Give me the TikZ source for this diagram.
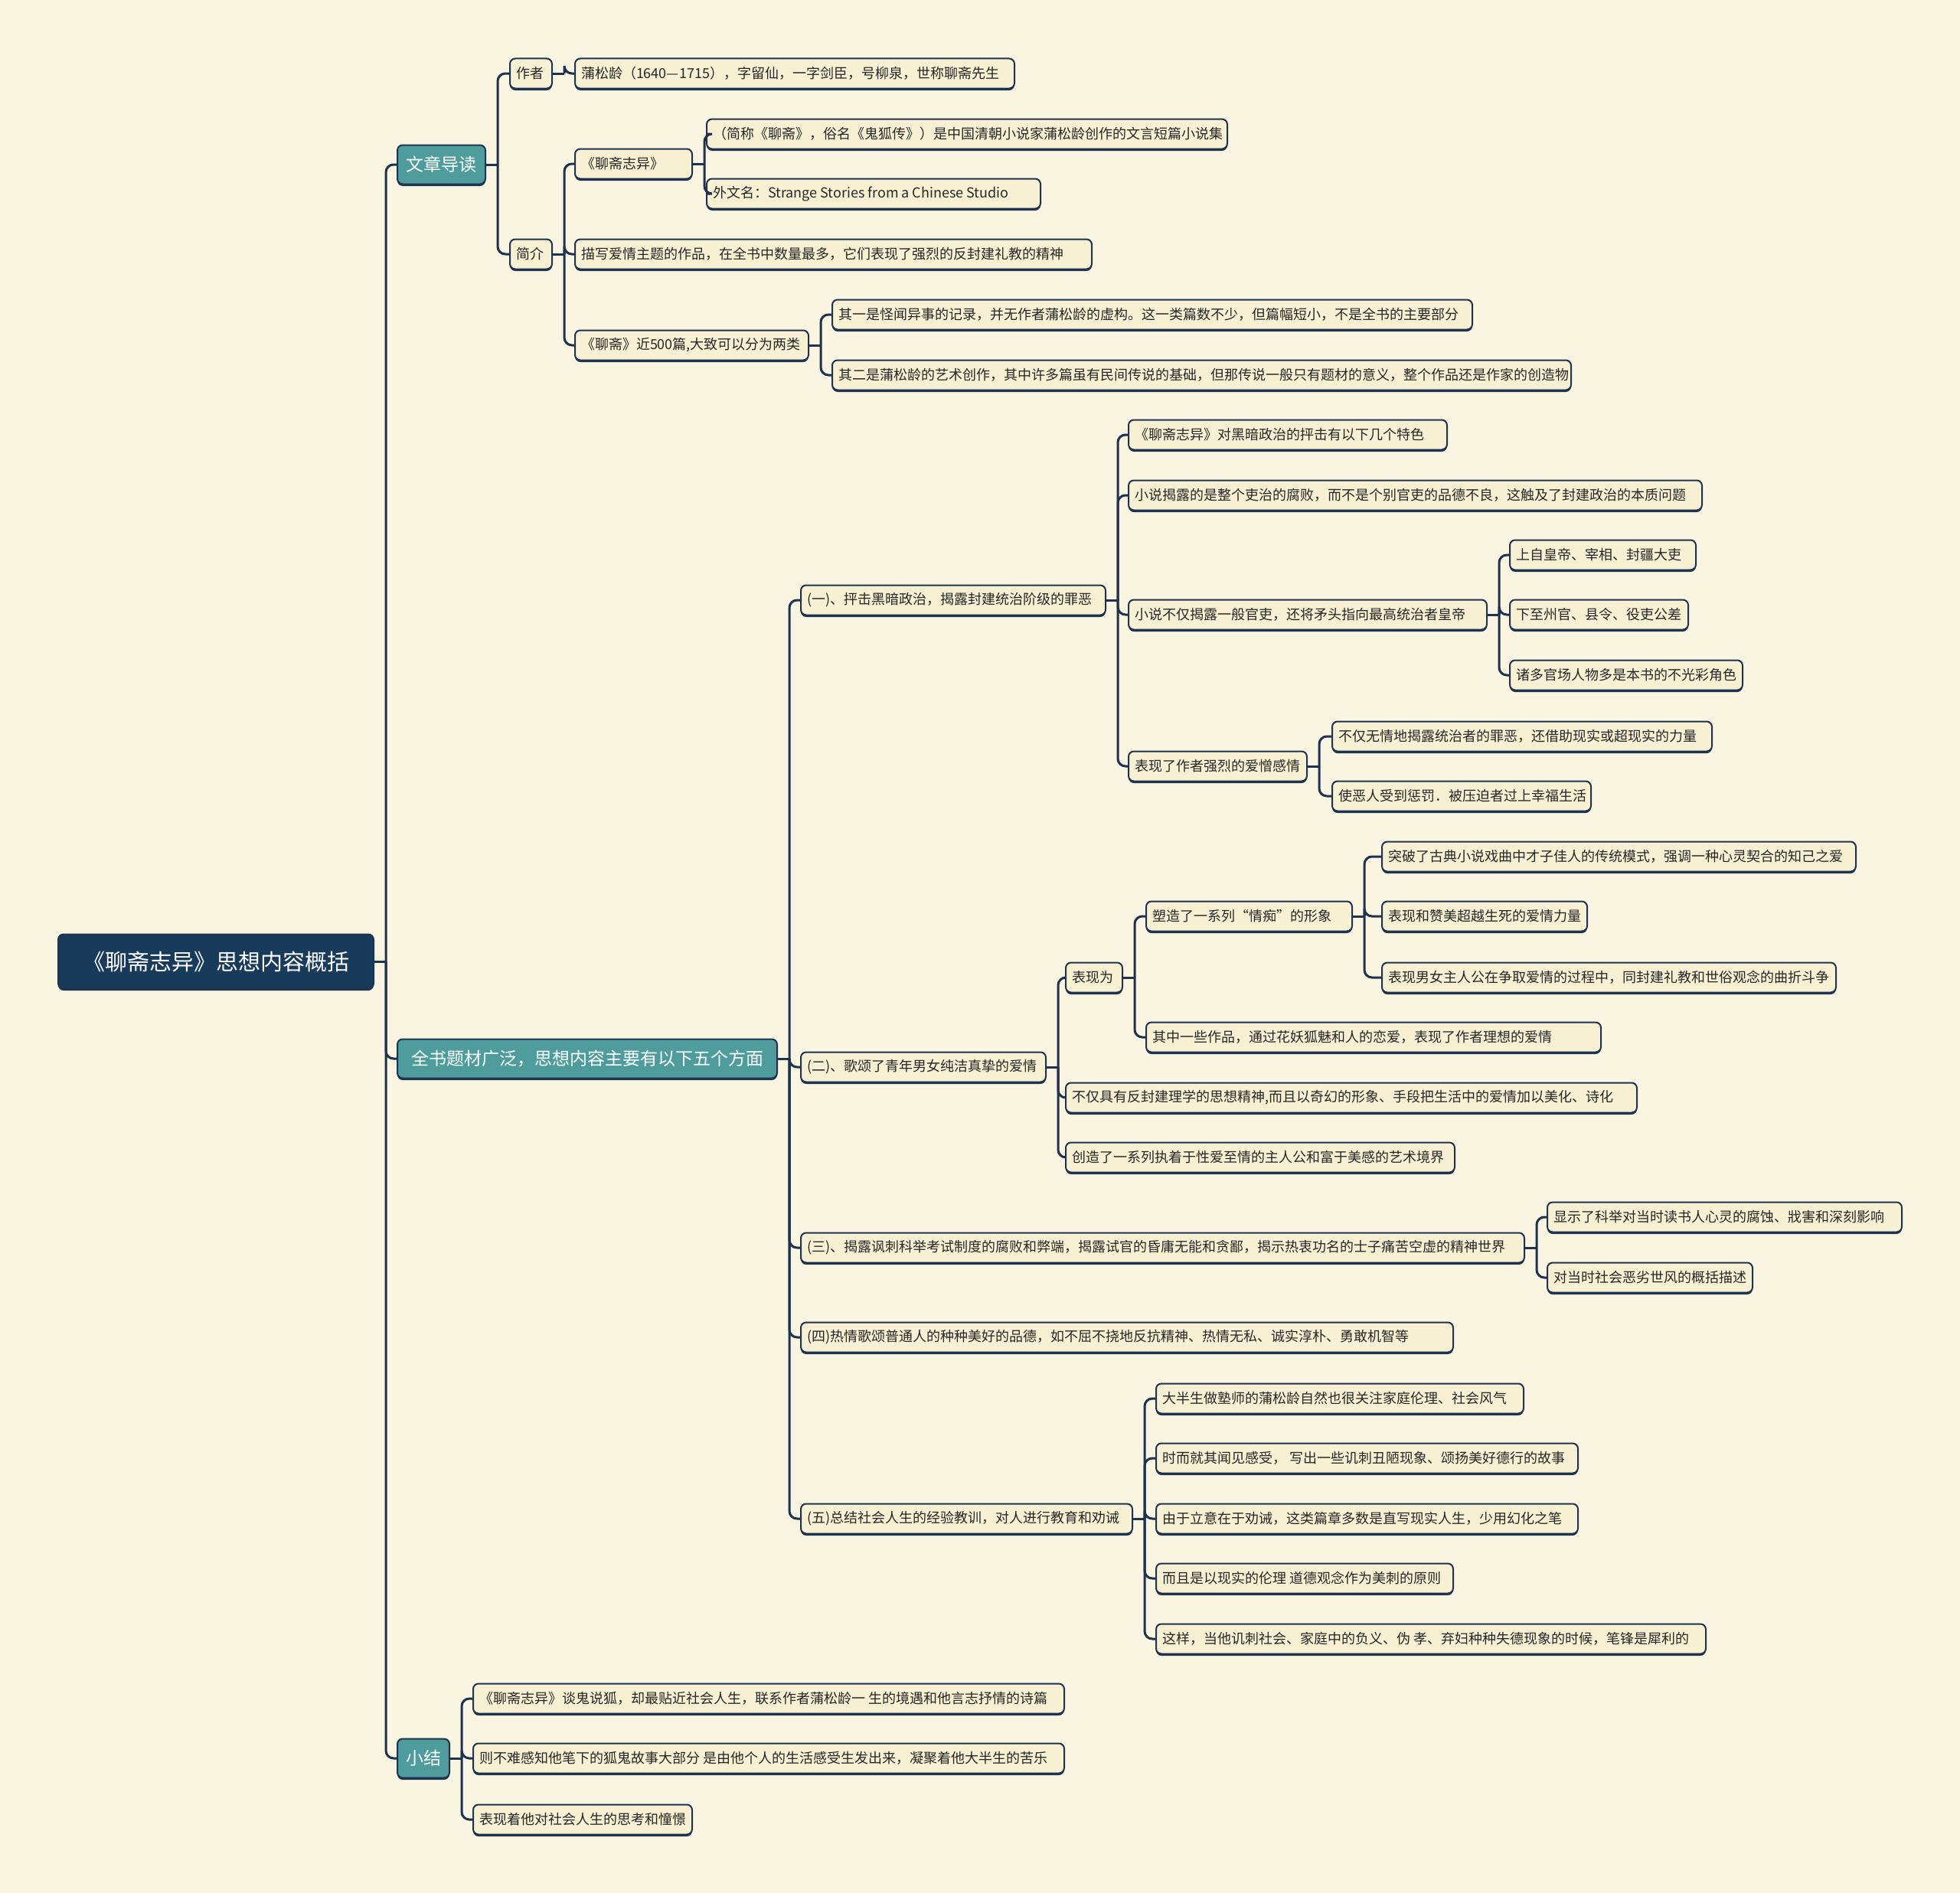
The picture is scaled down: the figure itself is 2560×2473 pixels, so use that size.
\documentclass[tikz,border=0pt]{standalone}
\usepackage{fontspec}
\setmainfont{Noto Sans CJK SC}
\usetikzlibrary{shadows}
\definecolor{bgC}{HTML}{FAF5E1}
\definecolor{leafC}{HTML}{F7F0D3}
\definecolor{lineC}{HTML}{1D3350}
\definecolor{rootC}{HTML}{183B5C}
\definecolor{tealC}{HTML}{4E9C9C}
\tikzset{
  boxbase/.style={anchor=west, draw=lineC, line width=2pt, rounded corners=7pt,
    inner xsep=8pt, inner ysep=0pt,
    general shadow={fill=lineC, shadow yshift=-2.5pt, shadow xshift=0pt}},
  leaf/.style={boxbase, fill=leafC, text=black!85, minimum height=39pt,
    font=\fontsize{18}{21}\selectfont},
  topic/.style={boxbase, fill=tealC, text=white, minimum height=51pt,
    font=\fontsize{23}{28}\selectfont},
  rootbox/.style={boxbase, fill=rootC, text=white, minimum height=71pt,
    font=\fontsize{29}{34}\selectfont},
  conn/.style={draw=lineC, line width=3pt},
}
\newcommand{\lf}[5]{\node[leaf, minimum width=#4pt] (#1) at (#2,#3)
  {\makebox[\dimexpr#4pt-16pt\relax][l]{#5}};}
\newcommand{\lnk}[2]{%
  \draw[conn] (#1.east) -- ++(15,0) coordinate (tmpc);
  \draw[conn, rounded corners=10pt] (tmpc) |- (#2.west);}
\begin{document}
\begin{tikzpicture}[x=1pt,y=-1pt]
\fill[bgC] (0,0) rectangle (2560,2473);
\useasboundingbox (0,0) rectangle (2560,2473);

% root and topics
\node[rootbox, minimum width=412pt] (root) at (75,1256) {《聊斋志异》思想内容概括};
\node[topic, minimum width=115pt] (n1) at (518,215) {文章导读};
\node[topic, minimum width=496pt] (n2) at (518,1383) {全书题材广泛，思想内容主要有以下五个方面};
\node[topic, minimum width=68pt] (n3) at (518,2297) {小结};

% 文章导读
\lf{a1}{665}{96}{55}{作者}
\lf{a2}{665}{332}{55}{简介}
\lf{a11}{750}{96}{574}{蒲松龄（1640—1715），字留仙，一字剑臣，号柳泉，世称聊斋先生}
\lf{b1}{750}{214}{153}{《聊斋志异》}
\lf{b2}{750}{332}{675}{描写爱情主题的作品，在全书中数量最多，它们表现了强烈的反封建礼教的精神}
\lf{b3}{750}{451}{305}{《聊斋》近500篇,大致可以分为两类}
\lf{b11}{922}{175}{680}{（简称《聊斋》，俗名《鬼狐传》）是中国清朝小说家蒲松龄创作的文言短篇小说集}
\lf{b12}{922}{253}{436}{外文名：Strange Stories from a Chinese Studio}
\lf{b31}{1086}{411}{836}{其一是怪闻异事的记录，并无作者蒲松龄的虚构。这一类篇数不少，但篇幅短小，不是全书的主要部分}
\lf{b32}{1086}{490}{965}{其二是蒲松龄的艺术创作，其中许多篇虽有民间传说的基础，但那传说一般只有题材的意义，整个作品还是作家的创造物}

% 五个方面
\lf{c1}{1045}{784}{398}{(一)、抨击黑暗政治，揭露封建统治阶级的罪恶}
\lf{c2}{1045}{1394}{320}{(二)、歌颂了青年男女纯洁真挚的爱情}
\lf{c3}{1045}{1630}{945}{(三)、揭露讽刺科举考试制度的腐败和弊端，揭露试官的昏庸无能和贪鄙，揭示热衷功名的士子痛苦空虚的精神世界}
\lf{c4}{1045}{1747}{852}{(四)热情歌颂普通人的种种美好的品德，如不屈不挠地反抗精神、热情无私、诚实淳朴、勇敢机智等}
\lf{c5}{1045}{1984}{433}{(五)总结社会人生的经验教训，对人进行教育和劝诫}

\lf{c11}{1473}{568}{416}{《聊斋志异》对黑暗政治的抨击有以下几个特色}
\lf{c12}{1473}{647}{749}{小说揭露的是整个吏治的腐败，而不是个别官吏的品德不良，这触及了封建政治的本质问题}
\lf{c13}{1473}{803}{468}{小说不仅揭露一般官吏，还将矛头指向最高统治者皇帝}
\lf{c14}{1473}{1001}{233}{表现了作者强烈的爱憎感情}
\lf{c131}{1971}{725}{243}{上自皇帝、宰相、封疆大吏}
\lf{c132}{1971}{803}{233}{下至州官、县令、役吏公差}
\lf{c133}{1971}{882}{304}{诸多官场人物多是本书的不光彩角色}
\lf{c141}{1739}{962}{496}{不仅无情地揭露统治者的罪恶，还借助现实或超现实的力量}
\lf{c142}{1739}{1040}{338}{使恶人受到惩罚．被压迫者过上幸福生活}

\lf{c21}{1391}{1277}{74}{表现为}
\lf{c22}{1391}{1434}{746}{不仅具有反封建理学的思想精神,而且以奇幻的形象、手段把生活中的爱情加以美化、诗化}
\lf{c23}{1391}{1512}{508}{创造了一系列执着于性爱至情的主人公和富于美感的艺术境界}
\lf{c211}{1496}{1197}{269}{塑造了一系列“情痴”的形象}
\lf{c212}{1496}{1355}{594}{其中一些作品，通过花妖狐魅和人的恋爱，表现了作者理想的爱情}
\lf{c2111}{1804}{1119}{619}{突破了古典小说戏曲中才子佳人的传统模式，强调一种心灵契合的知己之爱}
\lf{c2112}{1804}{1197}{268}{表现和赞美超越生死的爱情力量}
\lf{c2113}{1804}{1277}{593}{表现男女主人公在争取爱情的过程中，同封建礼教和世俗观念的曲折斗争}

\lf{c31}{2020}{1590}{463}{显示了科举对当时读书人心灵的腐蚀、戕害和深刻影响}
\lf{c32}{2020}{1669}{268}{对当时社会恶劣世风的概括描述}

\lf{c51}{1509}{1827}{480}{大半生做塾师的蒲松龄自然也很关注家庭伦理、社会风气}
\lf{c52}{1509}{1905}{551}{时而就其闻见感受， 写出一些讥刺丑陋现象、颂扬美好德行的故事}
\lf{c53}{1509}{1984}{551}{由于立意在于劝诫，这类篇章多数是直写现实人生，少用幻化之笔}
\lf{c54}{1509}{2062}{388}{而且是以现实的伦理 道德观念作为美刺的原则}
\lf{c55}{1509}{2141}{718}{这样，当他讥刺社会、家庭中的负义、伪 孝、弃妇种种失德现象的时候，笔锋是犀利的}

% 小结
\lf{d1}{617}{2219}{772}{《聊斋志异》谈鬼说狐，却最贴近社会人生，联系作者蒲松龄一 生的境遇和他言志抒情的诗篇}
\lf{d2}{617}{2297}{772}{则不难感知他笔下的狐鬼故事大部分 是由他个人的生活感受生发出来，凝聚着他大半生的苦乐}
\lf{d3}{617}{2377}{286}{表现着他对社会人生的思考和憧憬}

% connectors
\foreach \c in {n1,n2,n3} {\lnk{root}{\c}}
\foreach \c in {a1,a2} {\lnk{n1}{\c}}
\lnk{a1}{a11}
\foreach \c in {b1,b2,b3} {\lnk{a2}{\c}}
\foreach \c in {b11,b12} {\lnk{b1}{\c}}
\foreach \c in {b31,b32} {\lnk{b3}{\c}}
\foreach \c in {c1,c2,c3,c4,c5} {\lnk{n2}{\c}}
\foreach \c in {c11,c12,c13,c14} {\lnk{c1}{\c}}
\foreach \c in {c131,c132,c133} {\lnk{c13}{\c}}
\foreach \c in {c141,c142} {\lnk{c14}{\c}}
\foreach \c in {c21,c22,c23} {\lnk{c2}{\c}}
\foreach \c in {c211,c212} {\lnk{c21}{\c}}
\foreach \c in {c2111,c2112,c2113} {\lnk{c211}{\c}}
\foreach \c in {c31,c32} {\lnk{c3}{\c}}
\foreach \c in {c51,c52,c53,c54,c55} {\lnk{c5}{\c}}
\foreach \c in {d1,d2,d3} {\lnk{n3}{\c}}
\end{tikzpicture}
\end{document}
